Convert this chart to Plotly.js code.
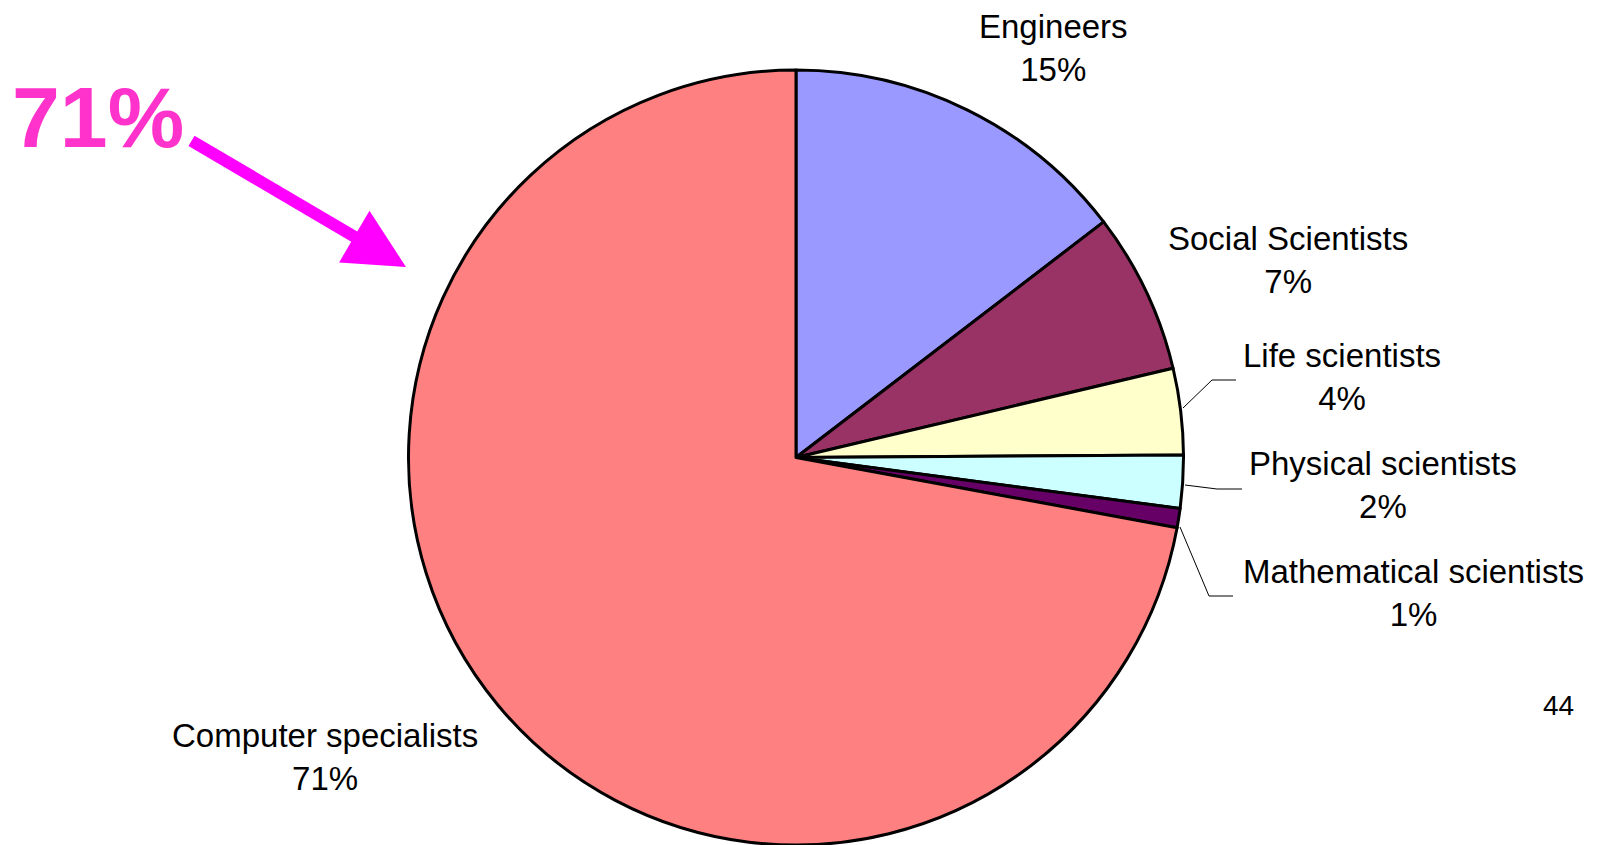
<!DOCTYPE html>
<html>
<head>
<meta charset="utf-8">
<script src="https://cdn.plot.ly/plotly-3.0.1.min.js"></script>
<style>
  html, body { margin: 0; padding: 0; background: #ffffff; }
  #chart { width: 1607px; height: 845px; }
</style>
</head>
<body>
<div id="chart"></div>
<script>
// ---- data ----
var categories = ["Engineers", "Social Scientists", "Life scientists", "Physical scientists", "Mathematical scientists", "Computer specialists"];
var shares = [14.6, 6.7, 3.6, 2.2, 0.8, 72.1];
var shareLabels = ["15%", "7%", "4%", "2%", "1%", "71%"];
var sliceColors = ["#9999FF", "#993366", "#FFFFCC", "#CCFFFF", "#660066", "#FF8080"];
var highlightText = "71%";
var pageNumber = "44";

// ---- layout helpers (pixel -> paper) ----
var W = 1607, H = 845;
function px(x) { return x / W; }
function py(y) { return 1 - y / H; }

var FONT = '"Liberation Sans", Arial, Helvetica, sans-serif';
var FS = 33;

// label placement (centre x, first baseline, second baseline) in pixels
var labelPos = [
  [1053, 37.7, 81],
  [1288, 249.3, 292.7],
  [1342, 366.7, 410],
  [1383, 475, 517.3],
  [1413, 583.3, 625],
  [325, 746.7, 790.7]
];

var annotations = [];
for (var i = 0; i < categories.length; i++) {
  var p = labelPos[i];
  annotations.push({
    xref: 'paper', yref: 'paper',
    x: px(p[0]), y: py((p[1] + p[2]) / 2 - 0.3465 * FS),
    xanchor: 'center', yanchor: 'middle',
    text: categories[i] + '<br>' + shareLabels[i],
    showarrow: false,
    font: { family: FONT, size: FS, color: '#000000' },
    align: 'center'
  });
}

// big highlighted number
annotations.push({
  xref: 'paper', yref: 'paper',
  x: px(98), y: py(147 - 0.3465 * 86),
  xanchor: 'center', yanchor: 'middle',
  text: '<b>' + highlightText + '</b>',
  showarrow: false,
  font: { family: FONT, size: 86, color: '#FF33CC' }
});

// magenta arrow
annotations.push({
  xref: 'paper', yref: 'paper',
  x: px(406), y: py(267),
  ax: 190 - 406, ay: 140 - 267,
  text: '',
  showarrow: true,
  arrowhead: 2, arrowsize: 1, arrowwidth: 12,
  arrowcolor: '#FF00FF',
  standoff: 0, startstandoff: 0
});

// page number
annotations.push({
  xref: 'paper', yref: 'paper',
  x: px(1558), y: py(715 - 0.3465 * 28),
  xanchor: 'center', yanchor: 'middle',
  text: pageNumber,
  showarrow: false,
  font: { family: FONT, size: 28, color: '#000000' }
});

// leader lines for the small slices
function leader(pts) {
  var d = '';
  for (var k = 0; k < pts.length; k++) {
    d += (k === 0 ? 'M' : 'L') + px(pts[k][0]) + ',' + py(pts[k][1]);
  }
  return {
    type: 'path', xref: 'paper', yref: 'paper', path: d,
    line: { color: '#000000', width: 1 }
  };
}
var shapes = [
  leader([[1183, 408], [1212, 380], [1236, 380]]),
  leader([[1185, 485], [1217, 489], [1242, 489]]),
  leader([[1180, 527], [1209, 596], [1233, 596]])
];

var trace = {
  type: 'pie',
  labels: categories,
  values: shares,
  sort: false,
  direction: 'clockwise',
  rotation: 0,
  textinfo: 'none',
  hoverinfo: 'none',
  marker: { colors: sliceColors, line: { color: '#000000', width: 3 } },
  domain: { x: [408 / W, 1184 / W], y: [0, py(70)] },
  showlegend: false
};

var layout = {
  width: W, height: H,
  margin: { l: 0, r: 0, t: 0, b: 0 },
  paper_bgcolor: '#ffffff',
  plot_bgcolor: '#ffffff',
  showlegend: false,
  annotations: annotations,
  shapes: shapes,
  font: { family: FONT }
};

Plotly.newPlot('chart', [trace], layout, { staticPlot: true, displayModeBar: false });
</script>
</body>
</html>
